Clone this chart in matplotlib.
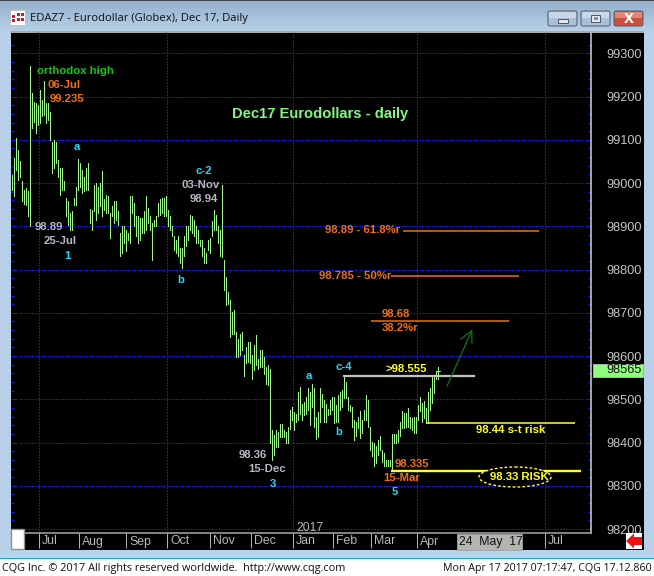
import matplotlib
matplotlib.use("Agg")
import matplotlib.pyplot as plt
import numpy as np
from matplotlib.patches import Rectangle, Ellipse, Polygon, FancyBboxPatch
from matplotlib.transforms import ScaledTranslation, blended_transform_factory

highs = [99019,99058,99104,99077,99050,99004,98985,98988,98981,99271,99208,99188,99185,99181,99215,99192,99236,99185,99185,99165,
 99096,99100,99096,99054,99035,99035,99004,98965,98958,98931,98935,98965,98992,99055,99046,99031,99015,99035,99046,98940,
 98938,98996,99000,98992,99000,99027,98962,98973,98969,98931,98946,98958,98958,98935,98885,98900,98900,98892,98885,98969,
 98969,98954,98923,98923,98919,98919,98935,98969,98942,98923,98908,98915,98923,98954,98962,98965,98965,98969,98938,98923,
 98900,98877,98869,98877,98850,98850,98877,98900,98900,98927,98923,98915,98900,98892,98869,98869,98850,98838,98869,98873,
 98912,98938,98927,98900,98892,98996,98823,98783,98748,98729,98702,98706,98656,98640,98652,98656,98602,98621,98633,98633,
 98602,98625,98648,98594,98613,98615,98598,98575,98579,98569,98428,98417,98428,98425,98444,98444,98428,98425,98436,98475,
 98482,98471,98467,98517,98529,98490,98494,98505,98525,98517,98535,98525,98459,98471,98525,98513,98498,98490,98478,98499,
 98506,98506,98487,98510,98518,98522,98554,98541,98506,98487,98483,98452,98448,98460,98472,98452,98475,98510,98498,98437,
 98402,98398,98391,98406,98414,98383,98375,98360,98360,98360,98419,98419,98419,98429,98448,98472,98468,98468,98479,98460,
 98456,98460,98460,98487,98506,98491,98495,98479,98518,98525,98552,98552,98564,98574]
lows = [98985,98969,99031,99008,99015,98958,98952,98950,98923,98900,99127,99142,99115,99135,99138,99154,99158,99138,99146,99100,
 99023,99035,99046,99015,98973,98985,98985,98923,98904,98892,98892,98950,98950,98985,98992,98977,98981,98985,98985,98908,
 98892,98935,98915,98931,98946,98923,98938,98931,98931,98873,98923,98908,98915,98904,98831,98838,98862,98842,98869,98862,
 98931,98900,98877,98862,98869,98885,98885,98892,98908,98892,98823,98900,98900,98923,98927,98931,98923,98923,98900,98892,
 98877,98846,98838,98831,98815,98804,98831,98854,98869,98892,98885,98877,98862,98862,98854,98831,98815,98815,98846,98838,
 98877,98892,98892,98862,98831,98829,98752,98717,98721,98644,98652,98652,98598,98598,98602,98613,98554,98583,98586,98583,
 98548,98567,98579,98571,98575,98575,98559,98536,98532,98398,98359,98371,98390,98390,98413,98413,98413,98398,98398,98432,
 98452,98428,98448,98452,98467,98452,98463,98467,98475,98440,98482,98436,98409,98413,98448,98482,98448,98448,98463,98467,
 98475,98445,98448,98448,98475,98483,98502,98502,98475,98472,98437,98406,98414,98433,98410,98422,98452,98452,98437,98383,
 98368,98345,98352,98372,98383,98356,98345,98345,98345,98345,98335,98398,98398,98402,98414,98433,98433,98437,98437,98433,
 98429,98422,98422,98452,98472,98448,98456,98445,98445,98475,98491,98514,98548,98548]
last_close = 98565
price_ticks = [99300,99200,99100,99000,98900,98800,98700,98600,98500,98400,98300,98200]
month_labels = ["Jul","Aug","Sep","Oct","Nov","Dec","Jan","Feb","Mar","Apr","Jul"]
month_pos = [13.5,33.5,57,77.5,99,119.5,140.5,160.5,179.5,202.5,266.5]
quarter_pos = [13.5,77.5,140.5,202.5,266.5]
fib_levels = [98890,98785,98680]
resist_level = 98555
st_risk_level = 98445
risk_level = 98335

W,H = 654,576
plt.rcParams['font.family'] = ['Liberation Sans','DejaVu Sans']
fig = plt.figure(figsize=(W/100,H/100),dpi=100,facecolor='white')
px = 0.72

# ---- background chrome
bg = fig.add_axes([0,0,1,1],zorder=0)
bg.set_xlim(0,W); bg.set_ylim(H,0); bg.axis('off')
bg.add_patch(Rectangle((0,0),W,558,fc='#b8d0e8',ec='none'))
grad = np.linspace(0,1,32)[:,None,None]
c1,c2 = np.array([0.58,0.69,0.80]),np.array([0.72,0.82,0.91])
bg.imshow(c1+(c2-c1)*grad,extent=(0,W,32,0),aspect='auto',zorder=1)
bg.set_xlim(0,W); bg.set_ylim(H,0)
bg.add_patch(Rectangle((0,0),W,1.2,fc='#404a55',ec='none',zorder=2))
bg.add_patch(Rectangle((10,31),634,2,fc='#a8a8a8',ec='none',zorder=2))
bg.add_patch(Rectangle((11,33),633,517,fc='black',ec='none',zorder=2))
bg.add_patch(Rectangle((0,550),W,8,fc='#b8d4ea',ec='none',zorder=2))
bg.add_patch(Rectangle((0,558),W,1.4,fc='#10a8c8',ec='none',zorder=2))
bg.add_patch(Rectangle((0,559.4),W,17,fc='white',ec='none',zorder=2))
# icon
bg.add_patch(Rectangle((10,10),15,15,fc='white',ec='#c0c0c0',lw=px,zorder=3))
for (x,y) in [(12,15),(17,13),(21,13),(12,19),(17,18),(21,18)]:
    bg.add_patch(Rectangle((x,y),3,3,fc='#c02030',ec='none',zorder=4))
# buttons
for x0,w,col,top in [(548,29,'#a9c0d8','#c8d8e8'),(581,29,'#a9c0d8','#c8d8e8'),(614,29,'#c8503c','#e08878')]:
    bg.add_patch(FancyBboxPatch((x0,11),w,15,boxstyle='round,pad=0,rounding_size=2',fc=col,ec='#50606e',lw=px,zorder=3))
    bg.add_patch(Rectangle((x0+1,12),w-2,6,fc=top,ec='none',zorder=4))
bg.add_patch(Rectangle((558,19),10,4,fc='#e4e8ec',ec='#505a64',lw=px,zorder=5))
bg.add_patch(Rectangle((591,15),9,7,fc='#e4e8ec',ec='#505a64',lw=px,zorder=5))
bg.add_patch(Rectangle((594,17),3.5,2.5,fc='#8090a0',ec='none',zorder=6))
bg.text(628.5,18.5,'x',color='white',fontsize=13,fontweight='bold',ha='center',va='center',zorder=6)
bg.text(30,18.5,'EDAZ7 - Eurodollar (Globex), Dec 17, Daily',color='#101010',fontsize=8.15,
        family=['Open Sans','DejaVu Sans'],va='center',ha='left',zorder=5)

# ---- chart
L,R,T,B = 11,591,33,533
ax = fig.add_axes([L/W,1-B/H,(R-L)/W,(B-T)/H],zorder=1)
ax.patch.set_alpha(0)
ax.set_xlim(-0.5,289.5)
ax.set_ylim(99300-(B-53.3)/0.4325,99300+(53.3-T)/0.4325)
for s in ['top','left']:
    ax.spines[s].set_visible(False)
ax.spines['right'].set_color('#c8d4ec'); ax.spines['bottom'].set_color('#a8a8a8')
ax.spines['right'].set_linewidth(1.1); ax.spines['bottom'].set_linewidth(1.1)

blue = '#1414f0'
dots = (0,(1.4,2.0))
ax.hlines(price_ticks,4,285,colors=blue,linewidth=px,linestyles=dots,antialiased=False,zorder=1)
ax.vlines(quarter_pos,ax.get_ylim()[0],ax.get_ylim()[1],colors=blue,linewidth=px,linestyles=dots,antialiased=False,zorder=1)

idx = np.arange(len(highs))
ax.vlines(idx,lows,highs,colors='#a0f58c',linewidth=0.55,antialiased=False,zorder=3)
ax.hlines([last_close],[idx[-1]-1],[idx[-1]+1],colors='#a0f58c',linewidth=0.55,antialiased=False,zorder=3)

ax.yaxis.tick_right()
ax.set_yticks(price_ticks)
ax.set_yticklabels([str(p) for p in price_ticks])
ax.set_yticks(np.arange(98200,99340,20),minor=True)
ax.tick_params(axis='y',which='major',direction='in',left=True,right=True,labelleft=False,labelright=True,
               length=4.5,width=px,color=blue,labelcolor='#c4c4c4',labelsize=9.2,pad=36.6)
ax.tick_params(axis='y',which='minor',direction='in',left=True,right=True,length=2.2,width=px*1.4,color=blue)
for t in ax.get_yticklabels():
    t.set_ha('right')
ax.set_xticks(month_pos)
ax.set_xticklabels(month_labels)
ax.tick_params(axis='x',direction='out',length=10.8,width=px,color='#b0b0b0',labelcolor='#b8b8b8',labelsize=8.8,pad=-9.0)
for t in ax.get_xticklabels():
    t.set_ha('left')
    t.set_transform(t.get_transform()+ScaledTranslation(3/100,0,fig.dpi_scale_trans))

# ---- overlay
ov = fig.add_axes([0,0,1,1],zorder=3)
ov.set_xlim(0,W); ov.set_ylim(H,0); ov.axis('off'); ov.patch.set_alpha(0)

# level lines (x in pixels, y in price)
tr = blended_transform_factory(ov.transData,ax.transData)
orange = '#f07010'; yellow = '#ffff20'; cyan = '#20d8f8'; grey = '#b4b8c4'
for lvl,x0,x1 in zip(fib_levels,[403,391,371],[539,519,509]):
    ov.plot([x0,x1],[lvl,lvl],transform=tr,color=orange,lw=1.1,solid_capstyle='butt')
ov.plot([343,475],[resist_level]*2,transform=tr,color='#c4c4c4',lw=1.6,solid_capstyle='butt')
ov.plot([426,575],[st_risk_level]*2,transform=tr,color=yellow,lw=1.1,solid_capstyle='butt')
ov.plot([391,581],[risk_level]*2,transform=tr,color=yellow,lw=1.7,solid_capstyle='butt')

# arrow
g = '#0c7a14'
ov.plot([447,471.7],[386,330.7],color=g,lw=0.9)
ov.plot([461,471.7,472],[339,330.7,343],color=g,lw=0.9)

# ellipse
ov.add_patch(Ellipse((515,477),72,20,fc='black',ec=yellow,lw=1,ls=(0,(2,1.5)),zorder=2))

def T_(x,y,s,c,fs=8.2,ha='left'):
    ov.text(x,y,s,color=c,fontsize=fs,fontweight='bold',ha=ha,va='center',zorder=5)
T_(37,70.5,'orthodox high','#10c810',8.2)
T_(47,85,'06-Jul',orange); T_(50,99.5,'99.235',orange)
T_(77,147,'a',cyan,ha='center')
T_(35,226.5,'98.89',grey); T_(44,240.5,'25-Jul',grey); T_(67,256,'1',cyan,ha='center')
T_(195,170.5,'c-2',cyan); T_(181,184.5,'03-Nov',grey); T_(190,198.5,'98.94',grey)
T_(181,280,'b',cyan,ha='center')
T_(232,114,'Dec17 Eurodollars - daily','#80f880',10.6)
T_(325,230,'98.89 - 61.8%r',orange); T_(319,276,'98.785 - 50%r',orange)
T_(382,314,'98.68',orange); T_(382,328,'38.2%r',orange)
T_(335,367.5,'c-4',cyan); T_(309,376,'a',cyan,ha='center'); T_(339,432,'b',cyan,ha='center')
T_(386,369,'>98.555',yellow)
T_(476,430,'98.44 s-t risk',yellow)
T_(395,464,'98.335',orange); T_(383,478,'15-Mar',orange); T_(395,492,'5',cyan,ha='center')
T_(490,477,'98.33 RISK',yellow)
T_(239,455,'98.36',grey); T_(248,469,'15-Dec',grey); T_(273,484,'3',cyan,ha='center')

ov.text(296,528,'2017',color='#b8b8b8',fontsize=8.8,va='center',ha='left')
# price tag
ov.add_patch(Rectangle((593,364),50,12.5,fc='#90fc80',ec='#b0c0b0',lw=0.6,zorder=4))
ov.text(641.5,370.4,str(last_close),color='#101010',fontsize=9.2,ha='right',va='center',zorder=5)
# scroll box & date box
ov.add_patch(Rectangle((11,529),12.5,20,fc='white',ec='#909090',lw=1))
ov.add_patch(Rectangle((457,534),65,15.5,fc='#b4b4b0',ec='#a0a0a0',lw=0.6,zorder=4))
ov.text(459,541.5,'24  May  17',color='#101010',fontsize=8.8,va='center',ha='left',zorder=5)
# red arrow
ov.add_patch(Rectangle((626,533),16,16,fc='white',ec='none',zorder=4))
ov.add_patch(Polygon([(626,541),(634,533.5),(634,537),(642,537),(642,545),(634,545),(634,548.5)],fc='#f01010',ec='none',zorder=5))

# footer
ov.text(2,568,'CQG Inc. © 2017 All rights reserved worldwide.  http://www.cqg.com',color='#101010',
        fontsize=7.85,family=['Open Sans','DejaVu Sans'],va='center',ha='left')
ov.text(652,568,'Mon Apr 17 2017 07:17:47, CQG 17.12.860',color='#101010',
        fontsize=7.7,family=['Open Sans','DejaVu Sans'],va='center',ha='right')

fig.savefig('out.png',dpi=100,facecolor='white')
